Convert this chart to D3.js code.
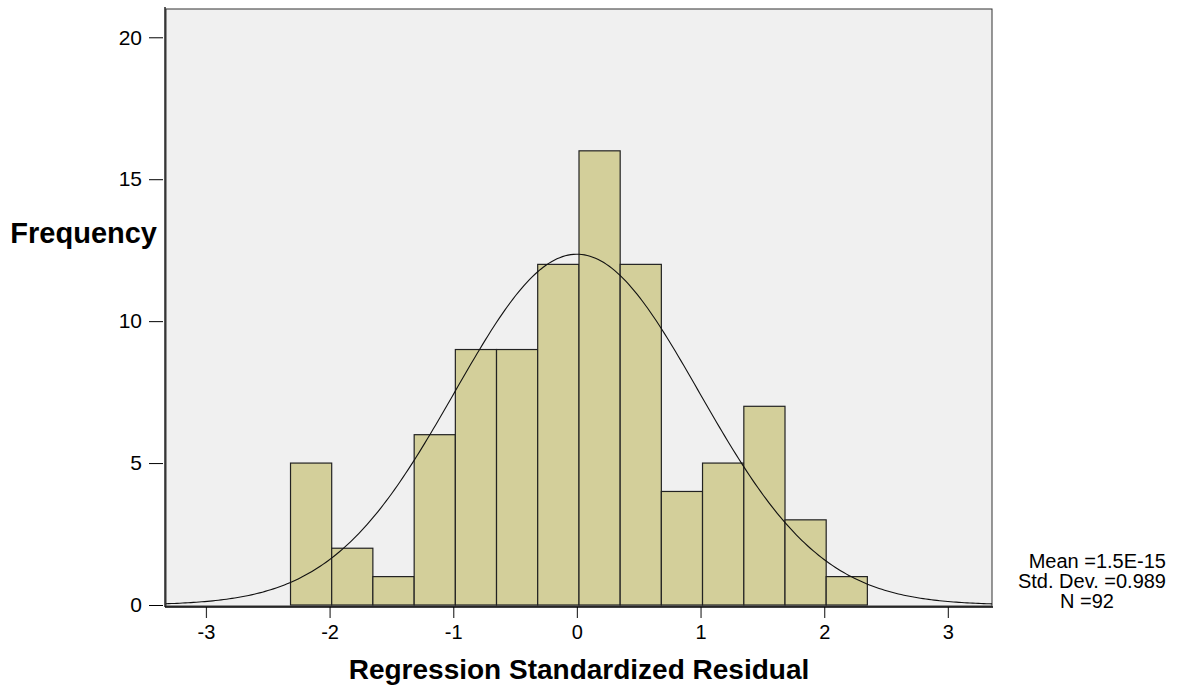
<!DOCTYPE html>
<html>
<head>
<meta charset="utf-8">
<script src="https://cdnjs.cloudflare.com/ajax/libs/d3/7.8.5/d3.min.js"></script>
<style>
    body { margin: 0; background: #fff; }
    text { font-family: Arial, "Liberation Sans", sans-serif; fill: #000; }
</style>
</head>
<body>
<div id="chart"></div>
<script>

// histogram data
var binEdges = [-2.316, -1.983, -1.650, -1.316, -0.983, -0.650, -0.317, 0.017,
    0.350, 0.683, 1.016, 1.350, 1.683, 2.016, 2.349];
var counts = [5, 2, 1, 6, 9, 9, 12, 16, 12, 4, 5, 7, 3, 1];

// summary stats shown in the legend
var statMean = 1.5e-15;
var statSd = 0.989;
var statN = 92;
var statLabels = ["Mean =1.5E-15", "Std. Dev. =0.989", "N =92"];

var xTicks = [-3, -2, -1, 0, 1, 2, 3];
var yTicks = [0, 5, 10, 15, 20];

var width = 1180;
var height = 687;

var plot = {
    left: 166,
    right: 992,
    top: 9,
    bottom: 606
};

var svg = d3.select('#chart')
    .append('svg')
    .attr('width', width)
    .attr('height', height);

var x_scale = d3.scaleLinear()
    .domain([-3.323, 3.357])
    .range([plot.left, plot.right]);

var y_scale = d3.scaleLinear()
    .domain([0, 21])
    .range([605, 8.9]);

// plain hyphen labels like the original ("-3", not "−3.0")
var plainFormat = function(d) { return String(d); };

// plot background
svg.append('rect')
    .attr('x', plot.left)
    .attr('y', plot.top)
    .attr('width', plot.right - plot.left)
    .attr('height', plot.bottom - plot.top)
    .attr('fill', '#f0f0f0')
    .attr('stroke', '#333')
    .attr('stroke-width', 1);

// bars
var bins = counts.map(function(c, i) {
    return { x0: binEdges[i], x1: binEdges[i + 1], n: c };
});

svg.selectAll('.bar')
    .data(bins)
    .enter()
    .append('rect')
    .attr('class', 'bar')
    .attr('x', function(d) { return x_scale(d.x0); })
    .attr('width', function(d) { return x_scale(d.x1) - x_scale(d.x0); })
    .attr('y', function(d) { return y_scale(d.n); })
    .attr('height', function(d) { return y_scale(0) - y_scale(d.n); })
    .attr('fill', '#d3cf9a')
    .attr('stroke', '#222')
    .attr('stroke-width', 1.2);

// fitted normal curve from mean / sd / N and bin width
var binWidth = binEdges[1] - binEdges[0];
var dom = x_scale.domain();
var curvePts = d3.range(0, 301).map(function(i) {
    var xv = dom[0] + (dom[1] - dom[0]) * i / 300;
    var z = (xv - statMean) / statSd;
    var yv = statN * binWidth * Math.exp(-0.5 * z * z) / (statSd * Math.sqrt(2 * Math.PI));
    return [xv, yv];
});

svg.append('path')
    .datum(curvePts)
    .attr('fill', 'none')
    .attr('stroke', '#111')
    .attr('stroke-width', 1.1)
    .attr('d', d3.line()
        .x(function(d) { return x_scale(d[0]); })
        .y(function(d) { return y_scale(d[1]); }));

// axes
var yAxis = svg.append('g')
    .attr('transform', 'translate(165,0)')
    .call(d3.axisLeft(y_scale)
        .tickValues(yTicks)
        .tickFormat(plainFormat)
        .tickSize(14)
        .tickPadding(9)
        .tickSizeOuter(0));

yAxis.select('.domain').remove();
yAxis.selectAll('.tick line').attr('transform', 'translate(-2,0)').attr('stroke', '#000');
yAxis.selectAll('.tick text').style('font-size', '21px');

svg.append('line')
    .attr('x1', 165).attr('x2', 165)
    .attr('y1', 7).attr('y2', 607)
    .attr('stroke', '#000')
    .attr('stroke-width', 1.3);

var xAxis = svg.append('g')
    .attr('transform', 'translate(0,607)')
    .call(d3.axisBottom(x_scale)
        .tickValues(xTicks)
        .tickFormat(plainFormat)
        .tickSize(11)
        .tickPadding(7)
        .tickSizeOuter(0));

xAxis.select('.domain').remove();
xAxis.selectAll('.tick line').attr('stroke', '#333').attr('stroke-width', 1.2);
xAxis.selectAll('.tick text').style('font-size', '20px');

svg.append('line')
    .attr('x1', 165).attr('x2', 993)
    .attr('y1', 607).attr('y2', 607)
    .attr('stroke', '#000')
    .attr('stroke-width', 1.3);

// axis titles
svg.append('text')
    .attr('x', 157)
    .attr('y', 243)
    .attr('text-anchor', 'end')
    .style('font-size', '29px')
    .style('font-weight', 'bold')
    .text('Frequency');

svg.append('text')
    .attr('x', (plot.left + plot.right) / 2)
    .attr('y', 679)
    .attr('text-anchor', 'middle')
    .style('font-size', '28px')
    .style('font-weight', 'bold')
    .text('Regression Standardized Residual');

// stats block
var statPos = [
    { x: 1166, y: 568, anchor: 'end' },
    { x: 1166, y: 588, anchor: 'end' },
    { x: 1087, y: 608, anchor: 'middle' }
];

svg.selectAll('.stat')
    .data(statLabels)
    .enter()
    .append('text')
    .attr('class', 'stat')
    .attr('x', function(d, i) { return statPos[i].x; })
    .attr('y', function(d, i) { return statPos[i].y; })
    .attr('text-anchor', function(d, i) { return statPos[i].anchor; })
    .style('font-size', '20px')
    .text(function(d) { return d; });

</script>
</body>
</html>
